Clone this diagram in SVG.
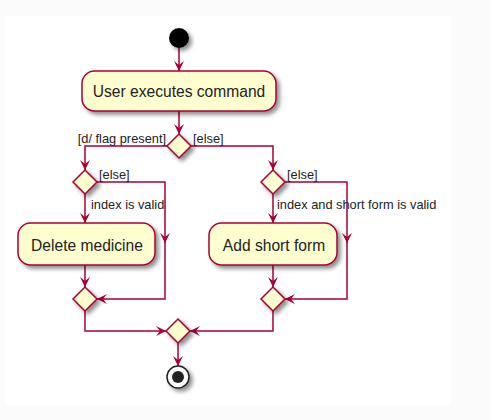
<svg xmlns="http://www.w3.org/2000/svg" width="491" height="420" viewBox="0 0 491 420">
<defs>
<filter id="sh" x="-20%" y="-20%" width="150%" height="150%">
<feGaussianBlur in="SourceAlpha" stdDeviation="2"/>
<feOffset dx="3" dy="3" result="b"/>
<feComponentTransfer><feFuncA type="linear" slope="0.45"/></feComponentTransfer>
<feMerge><feMergeNode/><feMergeNode in="SourceGraphic"/></feMerge>
</filter>
<marker id="ah" viewBox="0 0 10 10" refX="10" refY="5" markerWidth="10" markerHeight="10" markerUnits="userSpaceOnUse" orient="auto">
<path d="M0,0 L10,5 L0,10 L4,5 Z" fill="#A80036"/>
</marker>
</defs>
<style>
.act{fill:#FEFECE;stroke:#A80036;stroke-width:1.5}
.dia{fill:#FEFECE;stroke:#A80036;stroke-width:1.5}
.ln{fill:none;stroke:#A80036;stroke-width:1.5}
.t{font-family:"Liberation Sans",Arial,sans-serif;font-size:15.6px;fill:#222}
.l{font-family:"Liberation Sans",Arial,sans-serif;font-size:12.8px;fill:#222}
</style>
<rect x="0" y="0" width="491" height="420" fill="#FBFBFB"/>
<rect x="5" y="16" width="446" height="389" fill="#FFFFFF"/>

<g id="connectors">
<line class="ln" x1="179" y1="48" x2="179" y2="71" marker-end="url(#ah)"/>
<line class="ln" x1="179" y1="111" x2="179" y2="134" marker-end="url(#ah)"/>
<polyline class="ln" points="167,146 85,146 85,170" marker-end="url(#ah)"/>
<polyline class="ln" points="191,146 273,146 273,170" marker-end="url(#ah)"/>
<line class="ln" x1="85" y1="194" x2="85" y2="223" marker-end="url(#ah)"/>
<line class="ln" x1="273" y1="194" x2="273" y2="223" marker-end="url(#ah)"/>
<line class="ln" x1="85" y1="265" x2="85" y2="287" marker-end="url(#ah)"/>
<line class="ln" x1="273" y1="265" x2="273" y2="287" marker-end="url(#ah)"/>
<polyline class="ln" points="97,182 165,182 165,243" marker-end="url(#ah)"/>
<polyline class="ln" points="165,240 165,299 97,299" marker-end="url(#ah)"/>
<polyline class="ln" points="285,182 347,182 347,243" marker-end="url(#ah)"/>
<polyline class="ln" points="347,240 347,299 285,299" marker-end="url(#ah)"/>
<polyline class="ln" points="85,311 85,331 166,331" marker-end="url(#ah)"/>
<polyline class="ln" points="273,311 273,331 190,331" marker-end="url(#ah)"/>
<line class="ln" x1="178" y1="343" x2="178" y2="366" marker-end="url(#ah)"/>
<text class="l" x="166" y="143" text-anchor="end">[d/ flag present]</text>
<text class="l" x="193" y="143">[else]</text>
<text class="l" x="99" y="179">[else]</text>
<text class="l" x="287" y="179">[else]</text>
<text class="l" x="91" y="209">index is valid</text>
<text class="l" x="277" y="209">index and short form is valid</text>
</g>

<g id="start">
<circle cx="179" cy="38" r="10" fill="#000" filter="url(#sh)"/>
</g>
<g id="user-executes-command">
<rect class="act" x="82" y="71" width="194" height="40" rx="12.5" filter="url(#sh)"/>
<text class="t" x="179" y="97" text-anchor="middle">User executes command</text>
</g>
<g id="decision-flag">
<polygon class="dia" points="179,134 191,146 179,158 167,146" filter="url(#sh)"/>
</g>
<g id="decision-delete">
<polygon class="dia" points="85,170 97,182 85,194 73,182" filter="url(#sh)"/>
</g>
<g id="decision-add">
<polygon class="dia" points="273,170 285,182 273,194 261,182" filter="url(#sh)"/>
</g>
<g id="delete-medicine">
<rect class="act" x="18" y="223" width="137" height="42" rx="12.5" filter="url(#sh)"/>
<text class="t" x="87" y="251" text-anchor="middle">Delete medicine</text>
</g>
<g id="add-short-form">
<rect class="act" x="209" y="223" width="128" height="42" rx="12.5" filter="url(#sh)"/>
<text class="t" x="274" y="251" text-anchor="middle">Add short form</text>
</g>
<g id="merge-delete">
<polygon class="dia" points="85,287 97,299 85,311 73,299" filter="url(#sh)"/>
</g>
<g id="merge-add">
<polygon class="dia" points="273,287 285,299 273,311 261,299" filter="url(#sh)"/>
</g>
<g id="merge-final">
<polygon class="dia" points="178,319 190,331 178,343 166,331" filter="url(#sh)"/>
</g>
<g id="end">
<circle cx="178" cy="377" r="11" fill="#FFFFFF" stroke="#222" stroke-width="1.5" filter="url(#sh)"/>
<circle cx="178" cy="377" r="6" fill="#222"/>
</g>
</svg>
